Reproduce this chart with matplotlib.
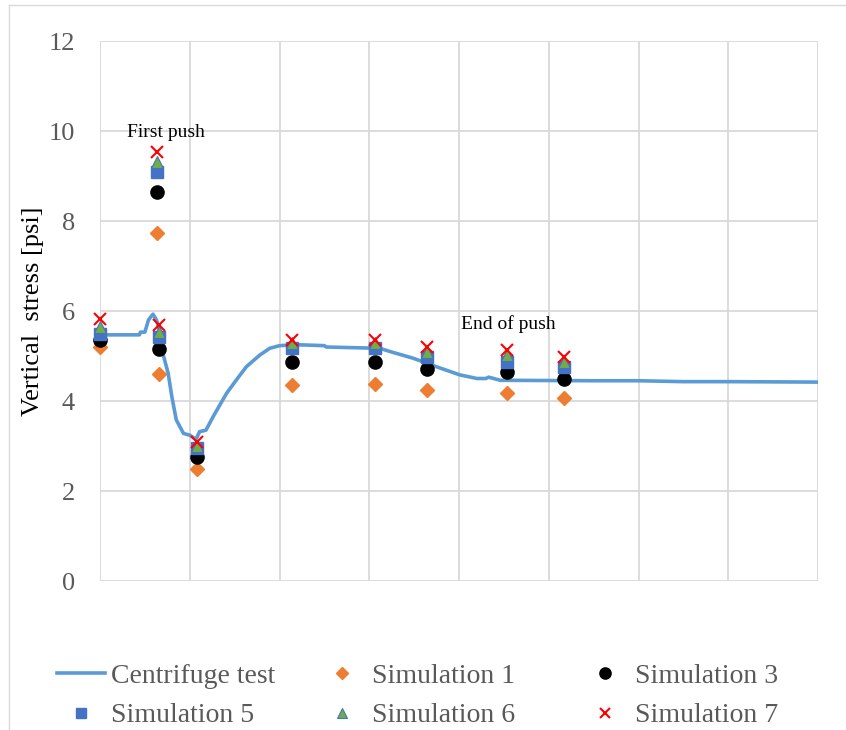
import matplotlib.pyplot as plt
from matplotlib.lines import Line2D

plt.rcParams['font.family'] = ['Liberation Serif', 'DejaVu Serif']

# centrifuge test curve (x has no units shown on the chart)
test_x = [0, 0.44, 0.45, 0.50, 0.54, 0.59, 0.63, 0.67, 0.70, 0.76, 0.80, 0.85, 0.93,
          1.00, 1.07, 1.11, 1.18, 1.26, 1.41, 1.52, 1.63, 1.78, 1.89, 2.00, 2.20,
          2.50, 2.52, 3.12, 3.23, 3.49, 3.75, 4.01, 4.20, 4.30, 4.33, 4.46, 5.50,
          6.00, 6.50, 7.00, 8.00]
test_y = [5.47, 5.47, 5.53, 5.53, 5.80, 5.93, 5.80, 5.50, 5.06, 4.61, 4.10, 3.58, 3.28,
          3.24, 3.15, 3.32, 3.35, 3.65, 4.17, 4.47, 4.76, 5.02, 5.17, 5.23, 5.25,
          5.23, 5.20, 5.17, 5.10, 4.95, 4.76, 4.58, 4.50, 4.50, 4.53, 4.46, 4.45,
          4.45, 4.43, 4.43, 4.42]

# simulation points
sim_x = [0.0, 0.64, 0.66, 1.08, 2.14, 3.06, 3.64, 4.54, 5.17]
sim1 = [5.21, 7.74, 4.60, 2.50, 4.36, 4.37, 4.24, 4.17, 4.06]
sim3 = [5.36, 8.65, 5.15, 2.76, 4.87, 4.87, 4.71, 4.64, 4.50]
sim5 = [5.50, 9.10, 5.43, 2.95, 5.17, 5.17, 4.98, 4.87, 4.76]
sim6 = [5.64, 9.32, 5.54, 3.00, 5.28, 5.28, 5.10, 5.02, 4.87]
sim7 = [5.82, 9.54, 5.69, 3.10, 5.36, 5.36, 5.21, 5.13, 4.97]

fig = plt.figure(figsize=(8.46, 7.3), dpi=100)
ax = fig.add_axes([100/846, 1 - 581/730, 718/846, 540/730])

l0, = ax.plot(test_x, test_y, color='#5B9BD5', lw=2.6, label='Centrifuge test', zorder=2)
l1, = ax.plot(sim_x, sim1, 'D', color='#ED7D31', ms=7, ls='none', label='Simulation 1',
              zorder=3, clip_on=False)
l3, = ax.plot(sim_x, sim3, 'o', color='black', ms=9.5, ls='none', label='Simulation 3',
              zorder=4, clip_on=False)
l5, = ax.plot(sim_x, sim5, 's', color='#4472C4', ms=8.5, ls='none', label='Simulation 5',
              zorder=5, clip_on=False)
l6, = ax.plot(sim_x, sim6, '^', color='#70AD47', mec='#4472C4', mew=0.8, ms=8,
              ls='none', label='Simulation 6', zorder=6, clip_on=False)
l7, = ax.plot(sim_x, sim7, 'x', color='#FF0000', ms=9, mew=1.5, ls='none',
              label='Simulation 7', zorder=7, clip_on=False)

ax.text(0.3, 9.97, 'First push', fontsize=14, va='center')
ax.text(4.02, 5.7, 'End of push', fontsize=14, va='center')

ax.set_xlim(0, 8)
ax.set_ylim(0, 12)
ax.set_xticks(range(0, 9))
ax.set_yticks(range(0, 13, 2))
ax.set_xticklabels([])
ax.tick_params(length=0)
ax.tick_params(axis='y', labelsize=19, labelcolor='#595959', pad=18)
ax.grid(True, color='#D9D9D9', lw=1.3)
for s in ax.spines.values():
    s.set_visible(False)
ax.set_axisbelow(True)

ax.set_ylabel('Vertical  stress [psi]', fontsize=19)
ax.yaxis.set_label_coords(-0.078, 0.5)

# legend: one column per legend so the columns sit where the reference has them
cols = [([l0, l5], 57), ([l1, l6], 318), ([l3, l7], 581)]
for hs, x0 in cols:
    leg = fig.legend(handles=hs, loc='center left', bbox_to_anchor=(x0/846, 1 - 696/730),
                     frameon=False, fontsize=20, handlelength=1.73, handletextpad=0.2,
                     labelspacing=0.5, borderpad=0, borderaxespad=0, markerscale=0.85)
    for t in leg.get_texts():
        t.set_color('#595959')

# chart area border
fig.add_artist(Line2D([9/846, 9/846], [0, 1 - 5/730], color='#D9D9D9', lw=1))
fig.add_artist(Line2D([9/846, 1], [1 - 5/730, 1 - 5/730], color='#D9D9D9', lw=1))

fig.savefig('out.png', dpi=100)
